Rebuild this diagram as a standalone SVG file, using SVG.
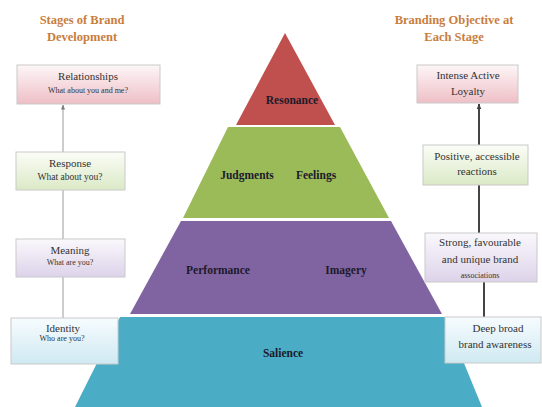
<svg xmlns="http://www.w3.org/2000/svg" width="542" height="407" viewBox="0 0 542 407">
<defs>
<linearGradient id="gPink" x1="0" y1="0" x2="0" y2="1"><stop offset="0" stop-color="#fdf6f7"/><stop offset="1" stop-color="#eebfc6"/></linearGradient>
<linearGradient id="gGreen" x1="0" y1="0" x2="0" y2="1"><stop offset="0" stop-color="#fbfdf7"/><stop offset="1" stop-color="#dbe9c6"/></linearGradient>
<linearGradient id="gPurple" x1="0" y1="0" x2="0" y2="1"><stop offset="0" stop-color="#faf8fc"/><stop offset="1" stop-color="#ddd3ea"/></linearGradient>
<linearGradient id="gBlue" x1="0" y1="0" x2="0" y2="1"><stop offset="0" stop-color="#f7fcfe"/><stop offset="1" stop-color="#cfe9f2"/></linearGradient>
<marker id="arrL" viewBox="0 0 10 10" refX="9" refY="5" markerWidth="5" markerHeight="5" orient="auto"><path d="M0,1 L10,5 L0,9 z" fill="#7a7a7a"/></marker>
<marker id="arrR" viewBox="0 0 10 10" refX="9" refY="5" markerWidth="3" markerHeight="3" orient="auto"><path d="M0,1 L10,5 L0,9 z" fill="#404040"/></marker>
</defs>
<style>
text{font-family:"Liberation Serif","DejaVu Serif","Times New Roman",serif}
.title{font-weight:bold;font-size:12.5px;fill:#c97d3c;text-anchor:middle}
.pt{font-weight:bold;font-size:11.5px;fill:#1c1a2a;text-anchor:middle}
.box{stroke:#c9c9c9;stroke-width:1}
.bt{font-size:11px;fill:#333;text-anchor:middle}
.bs{font-size:8px;fill:#333;text-anchor:middle}
.cl{stroke:#9a9a9a;stroke-width:1;fill:none}
.cr{stroke:#444;stroke-width:2;fill:none}
</style>
<rect width="542" height="407" fill="#ffffff"/>
<g id="titles">
<text class="title" x="82" y="24">Stages of Brand</text>
<text class="title" x="82" y="41">Development</text>
<text class="title" x="454" y="24">Branding Objective at</text>
<text class="title" x="454" y="41">Each Stage</text>
</g>
<g id="pyramid">
<g id="resonance"><polygon points="285,33 335,125 236,125" fill="#c0504d"/><text class="pt" x="292" y="104">Resonance</text></g>
<g id="judgments-feelings"><polygon points="228,127 340,127 389,218 183,218" fill="#9bbb59"/><text class="pt" x="247" y="179">Judgments</text><text class="pt" x="316" y="179">Feelings</text></g>
<g id="performance-imagery"><polygon points="181,221 391,221 442,314 130,314" fill="#8064a2"/><text class="pt" x="218" y="274">Performance</text><text class="pt" x="346" y="274">Imagery</text></g>
<g id="salience"><polygon points="120,317 445,317 482,407 75,407" fill="#4bacc6"/><text class="pt" x="283" y="357">Salience</text></g>
</g>
<g id="connectors">
<line class="cl" x1="63" y1="152" x2="63" y2="105" marker-end="url(#arrL)"/>
<line class="cl" x1="63" y1="190" x2="63" y2="239"/>
<line class="cl" x1="63" y1="277" x2="63" y2="318"/>
<line class="cr" x1="479" y1="145" x2="479" y2="104" marker-end="url(#arrR)"/>
<line class="cr" x1="479" y1="185" x2="479" y2="233"/>
<line class="cr" x1="484" y1="282" x2="484" y2="317"/>
</g>
<g id="relationships"><rect class="box" x="17" y="65" width="143" height="39" fill="url(#gPink)"/><text class="bt" x="88" y="80">Relationships</text><text class="bs" x="88" y="93">What about you and me?</text></g>
<g id="response"><rect class="box" x="16" y="152" width="109" height="38" fill="url(#gGreen)"/><text class="bt" x="70" y="167">Response</text><text class="bs" x="70" y="180" style="font-size:9.5px">What about you?</text></g>
<g id="meaning"><rect class="box" x="16" y="239" width="109" height="38" fill="url(#gPurple)"/><text class="bt" x="70" y="254">Meaning</text><text class="bs" x="70" y="265">What are you?</text></g>
<g id="identity"><rect class="box" x="11" y="318" width="107" height="46" fill="url(#gBlue)"/><text class="bt" x="63" y="332">Identity</text><text class="bs" x="62" y="341">Who are you?</text></g>
<g id="loyalty"><rect class="box" x="417" y="65" width="101" height="38" fill="url(#gPink)"/><text class="bt" x="468" y="79">Intense Active</text><text class="bt" x="468" y="95">Loyalty</text></g>
<g id="reactions"><rect class="box" x="423" y="145" width="105" height="40" fill="url(#gGreen)"/><text class="bt" x="477" y="160">Positive, accessible</text><text class="bt" x="477" y="175">reactions</text></g>
<g id="associations"><rect class="box" x="425" y="233" width="112" height="49" fill="url(#gPurple)"/><text class="bt" x="480" y="246">Strong, favourable</text><text class="bt" x="480" y="263">and unique brand</text><text class="bs" x="480" y="278">associations</text></g>
<g id="awareness"><rect class="box" x="445" y="317" width="96" height="46" fill="url(#gBlue)"/><text class="bt" x="498" y="332">Deep broad</text><text class="bt" x="495" y="348">brand awareness</text></g>
</svg>
